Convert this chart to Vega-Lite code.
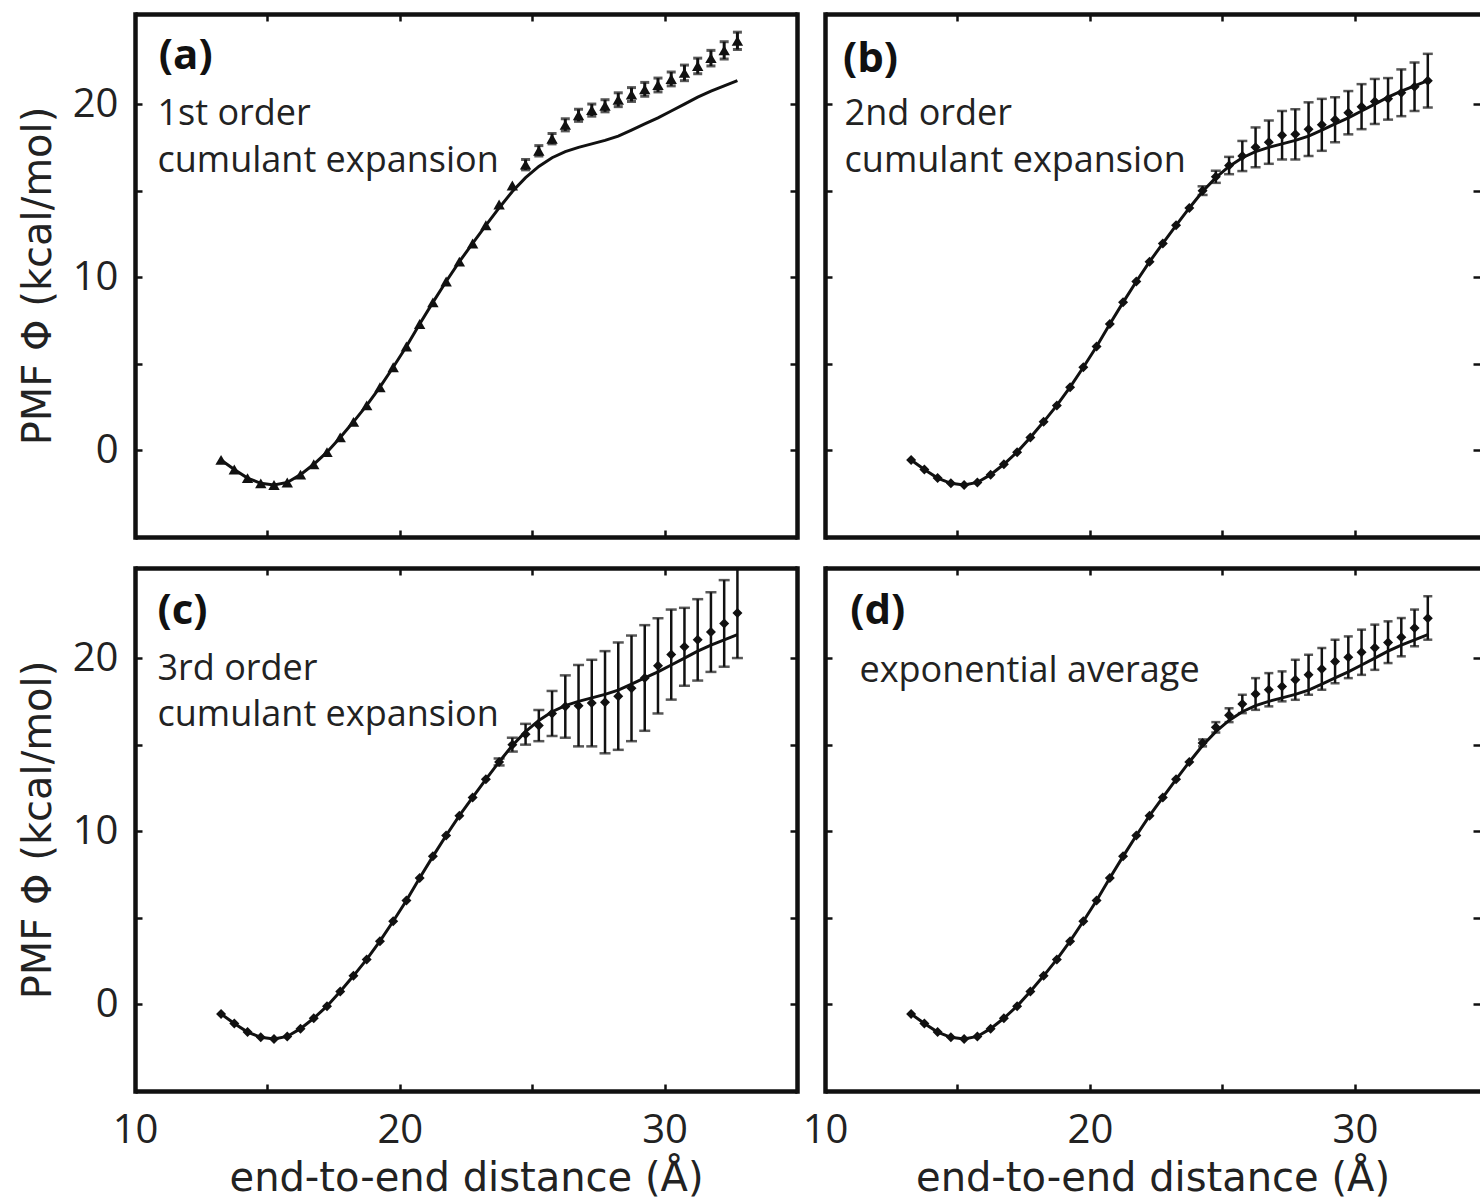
{
  "$schema": "https://vega.github.io/schema/vega-lite/v6.json",
  "usermeta": {"embedOptions": {"actions": false}},
  "background": "white",
  "padding": {"left": 18, "top": 12, "right": 0, "bottom": 0},
  "bounds": "flush",
  "columns": 2,
  "spacing": {"row": 31, "column": 28},
  "config": {
    "font": "Open Sans",
    "view": {"stroke": null},
    "axis": {
      "grid": false,
      "domainColor": "#111",
      "tickColor": "#111",
      "labelColor": "#222",
      "titleColor": "#222",
      "labelFont": "Open Sans",
      "titleFont": "DejaVu Sans",
      "labelFontSize": 40,
      "titleFontSize": 40,
      "titleFontWeight": "normal",
      "domainWidth": 4.5,
      "tickWidth": 2.5,
      "tickSize": -7,
      "labelOverlap": false,
      "labelFlush": false
    }
  },
  "datasets": {
    "curve": [
      {"x": 13.25, "y": -0.55}, {"x": 13.75, "y": -1.1}, {"x": 14.25, "y": -1.6}, {"x": 14.75, "y": -1.9},
      {"x": 15.25, "y": -2.0}, {"x": 15.75, "y": -1.85}, {"x": 16.25, "y": -1.4}, {"x": 16.75, "y": -0.8},
      {"x": 17.25, "y": -0.1}, {"x": 17.75, "y": 0.75}, {"x": 18.25, "y": 1.65}, {"x": 18.75, "y": 2.6},
      {"x": 19.25, "y": 3.65}, {"x": 19.75, "y": 4.8}, {"x": 20.25, "y": 6.0}, {"x": 20.75, "y": 7.3},
      {"x": 21.25, "y": 8.55}, {"x": 21.75, "y": 9.75}, {"x": 22.25, "y": 10.9}, {"x": 22.75, "y": 11.95},
      {"x": 23.25, "y": 13.0}, {"x": 23.75, "y": 14.0}, {"x": 24.25, "y": 14.95}, {"x": 24.75, "y": 15.75},
      {"x": 25.25, "y": 16.4}, {"x": 25.75, "y": 16.9}, {"x": 26.25, "y": 17.25}, {"x": 26.75, "y": 17.5},
      {"x": 27.25, "y": 17.7}, {"x": 27.75, "y": 17.9}, {"x": 28.25, "y": 18.15}, {"x": 28.75, "y": 18.5},
      {"x": 29.25, "y": 18.85}, {"x": 29.75, "y": 19.2}, {"x": 30.25, "y": 19.6}, {"x": 30.75, "y": 20.0},
      {"x": 31.25, "y": 20.4}, {"x": 31.75, "y": 20.75}, {"x": 32.25, "y": 21.05}, {"x": 32.75, "y": 21.35}
    ],
    "pmf": [
      {"p": "a", "x": 13.25, "y": -0.55}, {"p": "a", "x": 13.75, "y": -1.1}, {"p": "a", "x": 14.25, "y": -1.6}, {"p": "a", "x": 14.75, "y": -1.9},
      {"p": "a", "x": 15.25, "y": -2.0}, {"p": "a", "x": 15.75, "y": -1.85}, {"p": "a", "x": 16.25, "y": -1.4}, {"p": "a", "x": 16.75, "y": -0.8},
      {"p": "a", "x": 17.25, "y": -0.1}, {"p": "a", "x": 17.75, "y": 0.75}, {"p": "a", "x": 18.25, "y": 1.65}, {"p": "a", "x": 18.75, "y": 2.6},
      {"p": "a", "x": 19.25, "y": 3.65}, {"p": "a", "x": 19.75, "y": 4.8}, {"p": "a", "x": 20.25, "y": 6.0}, {"p": "a", "x": 20.75, "y": 7.3},
      {"p": "a", "x": 21.25, "y": 8.55}, {"p": "a", "x": 21.75, "y": 9.75}, {"p": "a", "x": 22.25, "y": 10.9}, {"p": "a", "x": 22.75, "y": 11.95},
      {"p": "a", "x": 23.25, "y": 13.0}, {"p": "a", "x": 23.75, "y": 14.2}, {"p": "a", "x": 24.25, "y": 15.3},
      {"p": "a", "x": 24.75, "y": 16.5, "lo": 16.2, "hi": 16.8},
      {"p": "a", "x": 25.25, "y": 17.3, "lo": 17.0, "hi": 17.6},
      {"p": "a", "x": 25.75, "y": 18.0, "lo": 17.7, "hi": 18.3},
      {"p": "a", "x": 26.25, "y": 18.8, "lo": 18.45, "hi": 19.15},
      {"p": "a", "x": 26.75, "y": 19.35, "lo": 19.0, "hi": 19.7},
      {"p": "a", "x": 27.25, "y": 19.65, "lo": 19.3, "hi": 20.0},
      {"p": "a", "x": 27.75, "y": 19.9, "lo": 19.55, "hi": 20.25},
      {"p": "a", "x": 28.25, "y": 20.25, "lo": 19.85, "hi": 20.65},
      {"p": "a", "x": 28.75, "y": 20.55, "lo": 20.15, "hi": 20.95},
      {"p": "a", "x": 29.25, "y": 20.85, "lo": 20.45, "hi": 21.25},
      {"p": "a", "x": 29.75, "y": 21.1, "lo": 20.7, "hi": 21.5},
      {"p": "a", "x": 30.25, "y": 21.45, "lo": 21.05, "hi": 21.85},
      {"p": "a", "x": 30.75, "y": 21.8, "lo": 21.35, "hi": 22.25},
      {"p": "a", "x": 31.25, "y": 22.2, "lo": 21.75, "hi": 22.65},
      {"p": "a", "x": 31.75, "y": 22.65, "lo": 22.2, "hi": 23.1},
      {"p": "a", "x": 32.25, "y": 23.1, "lo": 22.6, "hi": 23.6},
      {"p": "a", "x": 32.75, "y": 23.65, "lo": 23.15, "hi": 24.15},

      {"p": "b", "x": 13.25, "y": -0.55}, {"p": "b", "x": 13.75, "y": -1.1}, {"p": "b", "x": 14.25, "y": -1.6}, {"p": "b", "x": 14.75, "y": -1.9},
      {"p": "b", "x": 15.25, "y": -2.0}, {"p": "b", "x": 15.75, "y": -1.85}, {"p": "b", "x": 16.25, "y": -1.4}, {"p": "b", "x": 16.75, "y": -0.8},
      {"p": "b", "x": 17.25, "y": -0.1}, {"p": "b", "x": 17.75, "y": 0.75}, {"p": "b", "x": 18.25, "y": 1.65}, {"p": "b", "x": 18.75, "y": 2.6},
      {"p": "b", "x": 19.25, "y": 3.65}, {"p": "b", "x": 19.75, "y": 4.8}, {"p": "b", "x": 20.25, "y": 6.0}, {"p": "b", "x": 20.75, "y": 7.3},
      {"p": "b", "x": 21.25, "y": 8.55}, {"p": "b", "x": 21.75, "y": 9.75}, {"p": "b", "x": 22.25, "y": 10.9}, {"p": "b", "x": 22.75, "y": 11.95},
      {"p": "b", "x": 23.25, "y": 13.0}, {"p": "b", "x": 23.75, "y": 14.0},
      {"p": "b", "x": 24.25, "y": 15.0, "lo": 14.75, "hi": 15.25},
      {"p": "b", "x": 24.75, "y": 15.8, "lo": 15.45, "hi": 16.15},
      {"p": "b", "x": 25.25, "y": 16.45, "lo": 15.95, "hi": 16.95},
      {"p": "b", "x": 25.75, "y": 17.0, "lo": 16.13, "hi": 17.87},
      {"p": "b", "x": 26.25, "y": 17.5, "lo": 16.35, "hi": 18.65},
      {"p": "b", "x": 26.75, "y": 17.8, "lo": 16.55, "hi": 19.05},
      {"p": "b", "x": 27.25, "y": 18.2, "lo": 16.8, "hi": 19.6},
      {"p": "b", "x": 27.75, "y": 18.25, "lo": 16.8, "hi": 19.7},
      {"p": "b", "x": 28.25, "y": 18.55, "lo": 17.0, "hi": 20.1},
      {"p": "b", "x": 28.75, "y": 18.8, "lo": 17.3, "hi": 20.3},
      {"p": "b", "x": 29.25, "y": 19.1, "lo": 17.8, "hi": 20.4},
      {"p": "b", "x": 29.75, "y": 19.5, "lo": 18.25, "hi": 20.75},
      {"p": "b", "x": 30.25, "y": 19.85, "lo": 18.55, "hi": 21.15},
      {"p": "b", "x": 30.75, "y": 20.15, "lo": 18.85, "hi": 21.45},
      {"p": "b", "x": 31.25, "y": 20.3, "lo": 19.1, "hi": 21.5},
      {"p": "b", "x": 31.75, "y": 20.65, "lo": 19.3, "hi": 22.0},
      {"p": "b", "x": 32.25, "y": 21.0, "lo": 19.6, "hi": 22.4},
      {"p": "b", "x": 32.75, "y": 21.35, "lo": 19.8, "hi": 22.9},

      {"p": "c", "x": 13.25, "y": -0.55}, {"p": "c", "x": 13.75, "y": -1.1}, {"p": "c", "x": 14.25, "y": -1.6}, {"p": "c", "x": 14.75, "y": -1.9},
      {"p": "c", "x": 15.25, "y": -2.0}, {"p": "c", "x": 15.75, "y": -1.85}, {"p": "c", "x": 16.25, "y": -1.4}, {"p": "c", "x": 16.75, "y": -0.8},
      {"p": "c", "x": 17.25, "y": -0.1}, {"p": "c", "x": 17.75, "y": 0.75}, {"p": "c", "x": 18.25, "y": 1.65}, {"p": "c", "x": 18.75, "y": 2.6},
      {"p": "c", "x": 19.25, "y": 3.65}, {"p": "c", "x": 19.75, "y": 4.8}, {"p": "c", "x": 20.25, "y": 6.0}, {"p": "c", "x": 20.75, "y": 7.3},
      {"p": "c", "x": 21.25, "y": 8.55}, {"p": "c", "x": 21.75, "y": 9.75}, {"p": "c", "x": 22.25, "y": 10.9}, {"p": "c", "x": 22.75, "y": 11.95},
      {"p": "c", "x": 23.25, "y": 13.0},
      {"p": "c", "x": 23.75, "y": 14.0, "lo": 13.8, "hi": 14.2},
      {"p": "c", "x": 24.25, "y": 15.0, "lo": 14.6, "hi": 15.4},
      {"p": "c", "x": 24.75, "y": 15.6, "lo": 15.0, "hi": 16.2},
      {"p": "c", "x": 25.25, "y": 16.1, "lo": 15.2, "hi": 17.0},
      {"p": "c", "x": 25.75, "y": 16.8, "lo": 15.5, "hi": 18.1},
      {"p": "c", "x": 26.25, "y": 17.2, "lo": 15.4, "hi": 19.0},
      {"p": "c", "x": 26.75, "y": 17.25, "lo": 14.9, "hi": 19.6},
      {"p": "c", "x": 27.25, "y": 17.4, "lo": 14.9, "hi": 19.9},
      {"p": "c", "x": 27.75, "y": 17.45, "lo": 14.5, "hi": 20.4},
      {"p": "c", "x": 28.25, "y": 17.8, "lo": 14.7, "hi": 20.9},
      {"p": "c", "x": 28.75, "y": 18.25, "lo": 15.2, "hi": 21.3},
      {"p": "c", "x": 29.25, "y": 18.85, "lo": 15.8, "hi": 21.9},
      {"p": "c", "x": 29.75, "y": 19.55, "lo": 16.8, "hi": 22.3},
      {"p": "c", "x": 30.25, "y": 20.2, "lo": 17.6, "hi": 22.8},
      {"p": "c", "x": 30.75, "y": 20.65, "lo": 18.4, "hi": 22.9},
      {"p": "c", "x": 31.25, "y": 21.05, "lo": 18.7, "hi": 23.4},
      {"p": "c", "x": 31.75, "y": 21.5, "lo": 19.2, "hi": 23.8},
      {"p": "c", "x": 32.25, "y": 22.0, "lo": 19.5, "hi": 24.5},
      {"p": "c", "x": 32.75, "y": 22.6, "lo": 20.0, "hi": 25.8},

      {"p": "d", "x": 13.25, "y": -0.55}, {"p": "d", "x": 13.75, "y": -1.1}, {"p": "d", "x": 14.25, "y": -1.6}, {"p": "d", "x": 14.75, "y": -1.9},
      {"p": "d", "x": 15.25, "y": -2.0}, {"p": "d", "x": 15.75, "y": -1.85}, {"p": "d", "x": 16.25, "y": -1.4}, {"p": "d", "x": 16.75, "y": -0.8},
      {"p": "d", "x": 17.25, "y": -0.1}, {"p": "d", "x": 17.75, "y": 0.75}, {"p": "d", "x": 18.25, "y": 1.65}, {"p": "d", "x": 18.75, "y": 2.6},
      {"p": "d", "x": 19.25, "y": 3.65}, {"p": "d", "x": 19.75, "y": 4.8}, {"p": "d", "x": 20.25, "y": 6.0}, {"p": "d", "x": 20.75, "y": 7.3},
      {"p": "d", "x": 21.25, "y": 8.55}, {"p": "d", "x": 21.75, "y": 9.75}, {"p": "d", "x": 22.25, "y": 10.9}, {"p": "d", "x": 22.75, "y": 11.95},
      {"p": "d", "x": 23.25, "y": 13.0}, {"p": "d", "x": 23.75, "y": 14.0},
      {"p": "d", "x": 24.25, "y": 15.1, "lo": 14.9, "hi": 15.3},
      {"p": "d", "x": 24.75, "y": 16.0, "lo": 15.7, "hi": 16.3},
      {"p": "d", "x": 25.25, "y": 16.7, "lo": 16.3, "hi": 17.1},
      {"p": "d", "x": 25.75, "y": 17.35, "lo": 16.82, "hi": 17.88},
      {"p": "d", "x": 26.25, "y": 17.93, "lo": 17.01, "hi": 18.84},
      {"p": "d", "x": 26.75, "y": 18.17, "lo": 17.21, "hi": 19.13},
      {"p": "d", "x": 27.25, "y": 18.36, "lo": 17.5, "hi": 19.23},
      {"p": "d", "x": 27.75, "y": 18.75, "lo": 17.59, "hi": 19.9},
      {"p": "d", "x": 28.25, "y": 19.03, "lo": 17.88, "hi": 20.19},
      {"p": "d", "x": 28.75, "y": 19.37, "lo": 18.17, "hi": 20.58},
      {"p": "d", "x": 29.25, "y": 19.8, "lo": 18.55, "hi": 21.06},
      {"p": "d", "x": 29.75, "y": 20.05, "lo": 18.84, "hi": 21.25},
      {"p": "d", "x": 30.25, "y": 20.33, "lo": 19.03, "hi": 21.64},
      {"p": "d", "x": 30.75, "y": 20.6, "lo": 19.32, "hi": 21.93},
      {"p": "d", "x": 31.25, "y": 20.9, "lo": 19.71, "hi": 22.12},
      {"p": "d", "x": 31.75, "y": 21.2, "lo": 20.1, "hi": 22.31},
      {"p": "d", "x": 32.25, "y": 21.74, "lo": 20.68, "hi": 22.8},
      {"p": "d", "x": 32.75, "y": 22.3, "lo": 21.06, "hi": 23.57}
    ]
  },
  "concat": [
    {
      "width": 662, "height": 523,
      "resolve": {"axis": {"x": "independent", "y": "independent"}},
      "layer": [
        {"data": {"name": "curve"}, "mark": {"type": "line", "color": "#111", "strokeWidth": 3, "clip": true},
         "encoding": {
           "x": {"field": "x", "type": "quantitative", "scale": {"domain": [10, 35], "nice": false, "zero": false},
                 "axis": {"orient": "bottom", "values": [10, 15, 20, 25, 30, 35], "labels": false, "title": null, "domainCap": "butt"}},
           "y": {"field": "y", "type": "quantitative", "scale": {"domain": [-5, 25.2], "nice": false, "zero": false},
                 "axis": {"orient": "left", "values": [0, 5, 10, 15, 20], "labelExpr": "datum.value % 10 === 0 ? datum.label : ''", "labelPadding": 24, "title": "PMF Φ (kcal/mol)", "titlePadding": 14, "domainCap": "square"}}}},
        {"data": {"name": "pmf"}, "transform": [{"filter": "datum.p === 'a' && isValid(datum.lo)"}],
         "mark": {"type": "rule", "color": "#111", "strokeWidth": 3, "clip": true},
         "encoding": {
           "x": {"field": "x", "type": "quantitative", "axis": {"orient": "top", "values": [10, 15, 20, 25, 30, 35], "labels": false, "title": null, "domainCap": "butt"}},
           "y": {"field": "lo", "type": "quantitative", "axis": {"orient": "right", "values": [0, 5, 10, 15, 20], "labels": false, "title": null, "domainCap": "square"}},
           "y2": {"field": "hi"}}},
        {"data": {"name": "pmf"}, "transform": [{"filter": "datum.p === 'a' && isValid(datum.lo)"}],
         "mark": {"type": "tick", "orient": "horizontal", "color": "#111", "size": 9, "thickness": 3, "clip": true},
         "encoding": {"x": {"field": "x", "type": "quantitative", "axis": null}, "y": {"field": "lo", "type": "quantitative", "axis": null}}},
        {"data": {"name": "pmf"}, "transform": [{"filter": "datum.p === 'a' && isValid(datum.lo)"}],
         "mark": {"type": "tick", "orient": "horizontal", "color": "#111", "size": 9, "thickness": 3, "clip": true},
         "encoding": {"x": {"field": "x", "type": "quantitative", "axis": null}, "y": {"field": "hi", "type": "quantitative", "axis": null}}},
        {"data": {"name": "pmf"}, "transform": [{"filter": "datum.p === 'a'"}],
         "mark": {"type": "point", "shape": "triangle-up", "filled": true, "color": "#111", "opacity": 1, "size": 130, "clip": true},
         "encoding": {"x": {"field": "x", "type": "quantitative", "axis": null}, "y": {"field": "y", "type": "quantitative", "axis": null}}},
        {"data": {"values": [{"t": "(a)"}]}, "mark": {"type": "text", "align": "left", "baseline": "alphabetic", "fontSize": 42, "fontWeight": "bold", "color": "#111"},
         "encoding": {"x": {"datum": 10.9, "type": "quantitative", "axis": null}, "y": {"datum": 22.05, "type": "quantitative", "axis": null}, "text": {"field": "t"}}},
        {"data": {"values": [{"t": "1st order"}]}, "mark": {"type": "text", "align": "left", "baseline": "alphabetic", "fontSize": 36, "color": "#222"},
         "encoding": {"x": {"datum": 10.85, "type": "quantitative", "axis": null}, "y": {"datum": 18.8, "type": "quantitative", "axis": null}, "text": {"field": "t"}}},
        {"data": {"values": [{"t": "cumulant expansion"}]}, "mark": {"type": "text", "align": "left", "baseline": "alphabetic", "fontSize": 36, "color": "#222"},
         "encoding": {"x": {"datum": 10.85, "type": "quantitative", "axis": null}, "y": {"datum": 16.1, "type": "quantitative", "axis": null}, "text": {"field": "t"}}}
      ]
    },
    {
      "width": 655, "height": 523,
      "resolve": {"axis": {"x": "independent", "y": "independent"}},
      "layer": [
        {"data": {"name": "curve"}, "mark": {"type": "line", "color": "#111", "strokeWidth": 3, "clip": true},
         "encoding": {
           "x": {"field": "x", "type": "quantitative", "scale": {"domain": [10, 34.72], "nice": false, "zero": false},
                 "axis": {"orient": "bottom", "values": [10, 15, 20, 25, 30], "labels": false, "title": null, "domainCap": "butt"}},
           "y": {"field": "y", "type": "quantitative", "scale": {"domain": [-5, 25.2], "nice": false, "zero": false},
                 "axis": {"orient": "left", "values": [0, 5, 10, 15, 20], "labels": false, "title": null, "domainCap": "square"}}}},
        {"data": {"name": "pmf"}, "transform": [{"filter": "datum.p === 'b' && isValid(datum.lo)"}],
         "mark": {"type": "rule", "color": "#111", "strokeWidth": 2.5, "clip": true},
         "encoding": {
           "x": {"field": "x", "type": "quantitative", "axis": {"orient": "top", "values": [10, 15, 20, 25, 30], "labels": false, "title": null, "domainCap": "butt"}},
           "y": {"field": "lo", "type": "quantitative", "axis": {"orient": "right", "values": [0, 5, 10, 15, 20], "labels": false, "title": null, "domain": false}},
           "y2": {"field": "hi"}}},
        {"data": {"name": "pmf"}, "transform": [{"filter": "datum.p === 'b' && isValid(datum.lo)"}],
         "mark": {"type": "tick", "orient": "horizontal", "color": "#111", "size": 10, "thickness": 2.5, "clip": true},
         "encoding": {"x": {"field": "x", "type": "quantitative", "axis": null}, "y": {"field": "lo", "type": "quantitative", "axis": null}}},
        {"data": {"name": "pmf"}, "transform": [{"filter": "datum.p === 'b' && isValid(datum.lo)"}],
         "mark": {"type": "tick", "orient": "horizontal", "color": "#111", "size": 10, "thickness": 2.5, "clip": true},
         "encoding": {"x": {"field": "x", "type": "quantitative", "axis": null}, "y": {"field": "hi", "type": "quantitative", "axis": null}}},
        {"data": {"name": "pmf"}, "transform": [{"filter": "datum.p === 'b'"}],
         "mark": {"type": "point", "shape": "diamond", "filled": true, "color": "#111", "opacity": 1, "size": 100, "clip": true},
         "encoding": {"x": {"field": "x", "type": "quantitative", "axis": null}, "y": {"field": "y", "type": "quantitative", "axis": null}}},
        {"data": {"values": [{"t": "(b)"}]}, "mark": {"type": "text", "align": "left", "baseline": "alphabetic", "fontSize": 42, "fontWeight": "bold", "color": "#111"},
         "encoding": {"x": {"datum": 10.68, "type": "quantitative", "axis": null}, "y": {"datum": 21.85, "type": "quantitative", "axis": null}, "text": {"field": "t"}}},
        {"data": {"values": [{"t": "2nd order"}]}, "mark": {"type": "text", "align": "left", "baseline": "alphabetic", "fontSize": 36, "color": "#222"},
         "encoding": {"x": {"datum": 10.74, "type": "quantitative", "axis": null}, "y": {"datum": 18.8, "type": "quantitative", "axis": null}, "text": {"field": "t"}}},
        {"data": {"values": [{"t": "cumulant expansion"}]}, "mark": {"type": "text", "align": "left", "baseline": "alphabetic", "fontSize": 36, "color": "#222"},
         "encoding": {"x": {"datum": 10.74, "type": "quantitative", "axis": null}, "y": {"datum": 16.1, "type": "quantitative", "axis": null}, "text": {"field": "t"}}}
      ]
    },
    {
      "width": 662, "height": 523,
      "resolve": {"axis": {"x": "independent", "y": "independent"}},
      "layer": [
        {"data": {"name": "curve"}, "mark": {"type": "line", "color": "#111", "strokeWidth": 3, "clip": true},
         "encoding": {
           "x": {"field": "x", "type": "quantitative", "scale": {"domain": [10, 35], "nice": false, "zero": false},
                 "axis": {"orient": "bottom", "values": [10, 15, 20, 25, 30, 35], "labelExpr": "datum.value % 10 === 0 ? datum.label : ''", "labelPadding": 26, "title": "end-to-end distance (Å)", "titlePadding": 8, "domainCap": "butt"}},
           "y": {"field": "y", "type": "quantitative", "scale": {"domain": [-5, 25.2], "nice": false, "zero": false},
                 "axis": {"orient": "left", "values": [0, 5, 10, 15, 20], "labelExpr": "datum.value % 10 === 0 ? datum.label : ''", "labelPadding": 24, "title": "PMF Φ (kcal/mol)", "titlePadding": 14, "domainCap": "square"}}}},
        {"data": {"name": "pmf"}, "transform": [{"filter": "datum.p === 'c' && isValid(datum.lo)"}],
         "mark": {"type": "rule", "color": "#111", "strokeWidth": 2.5, "clip": true},
         "encoding": {
           "x": {"field": "x", "type": "quantitative", "axis": {"orient": "top", "values": [10, 15, 20, 25, 30, 35], "labels": false, "title": null, "domainCap": "butt"}},
           "y": {"field": "lo", "type": "quantitative", "axis": {"orient": "right", "values": [0, 5, 10, 15, 20], "labels": false, "title": null, "domainCap": "square"}},
           "y2": {"field": "hi"}}},
        {"data": {"name": "pmf"}, "transform": [{"filter": "datum.p === 'c' && isValid(datum.lo)"}],
         "mark": {"type": "tick", "orient": "horizontal", "color": "#111", "size": 11, "thickness": 2.5, "clip": true},
         "encoding": {"x": {"field": "x", "type": "quantitative", "axis": null}, "y": {"field": "lo", "type": "quantitative", "axis": null}}},
        {"data": {"name": "pmf"}, "transform": [{"filter": "datum.p === 'c' && isValid(datum.lo)"}],
         "mark": {"type": "tick", "orient": "horizontal", "color": "#111", "size": 11, "thickness": 2.5, "clip": true},
         "encoding": {"x": {"field": "x", "type": "quantitative", "axis": null}, "y": {"field": "hi", "type": "quantitative", "axis": null}}},
        {"data": {"name": "pmf"}, "transform": [{"filter": "datum.p === 'c'"}],
         "mark": {"type": "point", "shape": "diamond", "filled": true, "color": "#111", "opacity": 1, "size": 100, "clip": true},
         "encoding": {"x": {"field": "x", "type": "quantitative", "axis": null}, "y": {"field": "y", "type": "quantitative", "axis": null}}},
        {"data": {"values": [{"t": "(c)"}]}, "mark": {"type": "text", "align": "left", "baseline": "alphabetic", "fontSize": 42, "fontWeight": "bold", "color": "#111"},
         "encoding": {"x": {"datum": 10.85, "type": "quantitative", "axis": null}, "y": {"datum": 21.95, "type": "quantitative", "axis": null}, "text": {"field": "t"}}},
        {"data": {"values": [{"t": "3rd order"}]}, "mark": {"type": "text", "align": "left", "baseline": "alphabetic", "fontSize": 36, "color": "#222"},
         "encoding": {"x": {"datum": 10.85, "type": "quantitative", "axis": null}, "y": {"datum": 18.75, "type": "quantitative", "axis": null}, "text": {"field": "t"}}},
        {"data": {"values": [{"t": "cumulant expansion"}]}, "mark": {"type": "text", "align": "left", "baseline": "alphabetic", "fontSize": 36, "color": "#222"},
         "encoding": {"x": {"datum": 10.85, "type": "quantitative", "axis": null}, "y": {"datum": 16.1, "type": "quantitative", "axis": null}, "text": {"field": "t"}}}
      ]
    },
    {
      "width": 655, "height": 523,
      "resolve": {"axis": {"x": "independent", "y": "independent"}},
      "layer": [
        {"data": {"name": "curve"}, "mark": {"type": "line", "color": "#111", "strokeWidth": 3, "clip": true},
         "encoding": {
           "x": {"field": "x", "type": "quantitative", "scale": {"domain": [10, 34.72], "nice": false, "zero": false},
                 "axis": {"orient": "bottom", "values": [10, 15, 20, 25, 30], "labelExpr": "datum.value % 10 === 0 ? datum.label : ''", "labelPadding": 26, "title": "end-to-end distance (Å)", "titlePadding": 8, "domainCap": "butt"}},
           "y": {"field": "y", "type": "quantitative", "scale": {"domain": [-5, 25.2], "nice": false, "zero": false},
                 "axis": {"orient": "left", "values": [0, 5, 10, 15, 20], "labels": false, "title": null, "domainCap": "square"}}}},
        {"data": {"name": "pmf"}, "transform": [{"filter": "datum.p === 'd' && isValid(datum.lo)"}],
         "mark": {"type": "rule", "color": "#111", "strokeWidth": 2.5, "clip": true},
         "encoding": {
           "x": {"field": "x", "type": "quantitative", "axis": {"orient": "top", "values": [10, 15, 20, 25, 30], "labels": false, "title": null, "domainCap": "butt"}},
           "y": {"field": "lo", "type": "quantitative", "axis": {"orient": "right", "values": [0, 5, 10, 15, 20], "labels": false, "title": null, "domain": false}},
           "y2": {"field": "hi"}}},
        {"data": {"name": "pmf"}, "transform": [{"filter": "datum.p === 'd' && isValid(datum.lo)"}],
         "mark": {"type": "tick", "orient": "horizontal", "color": "#111", "size": 9, "thickness": 2.5, "clip": true},
         "encoding": {"x": {"field": "x", "type": "quantitative", "axis": null}, "y": {"field": "lo", "type": "quantitative", "axis": null}}},
        {"data": {"name": "pmf"}, "transform": [{"filter": "datum.p === 'd' && isValid(datum.lo)"}],
         "mark": {"type": "tick", "orient": "horizontal", "color": "#111", "size": 9, "thickness": 2.5, "clip": true},
         "encoding": {"x": {"field": "x", "type": "quantitative", "axis": null}, "y": {"field": "hi", "type": "quantitative", "axis": null}}},
        {"data": {"name": "pmf"}, "transform": [{"filter": "datum.p === 'd'"}],
         "mark": {"type": "point", "shape": "diamond", "filled": true, "color": "#111", "opacity": 1, "size": 100, "clip": true},
         "encoding": {"x": {"field": "x", "type": "quantitative", "axis": null}, "y": {"field": "y", "type": "quantitative", "axis": null}}},
        {"data": {"values": [{"t": "(d)"}]}, "mark": {"type": "text", "align": "left", "baseline": "alphabetic", "fontSize": 42, "fontWeight": "bold", "color": "#111"},
         "encoding": {"x": {"datum": 10.95, "type": "quantitative", "axis": null}, "y": {"datum": 21.95, "type": "quantitative", "axis": null}, "text": {"field": "t"}}},
        {"data": {"values": [{"t": "exponential average"}]}, "mark": {"type": "text", "align": "left", "baseline": "alphabetic", "fontSize": 36, "color": "#222"},
         "encoding": {"x": {"datum": 11.3, "type": "quantitative", "axis": null}, "y": {"datum": 18.6, "type": "quantitative", "axis": null}, "text": {"field": "t"}}}
      ]
    }
  ]
}
